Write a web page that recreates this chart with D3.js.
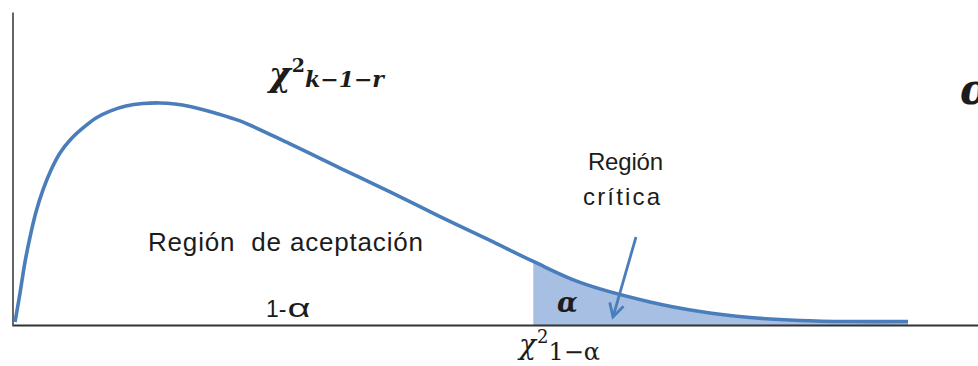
<!DOCTYPE html>
<html>
<head>
<meta charset="utf-8">
<script src="https://cdn.jsdelivr.net/npm/d3@7"></script>
<style>
  html, body { margin: 0; padding: 0; background: #fff; }
  svg { display: block; }
  text { white-space: pre; }
</style>
</head>
<body>
<script>
// Chi-square density (k - 1 - r degrees of freedom), read point by point
const chiValues = [0.043, 0.149, 0.255, 0.362, 0.489, 0.638, 0.809, 1.0, 1.234, 1.489, 1.766,
                   2.064, 2.404, 2.766, 3.128, 3.447, 3.766, 4.298, 4.83, 5.894, 6.957, 8.021,
                   9.085, 10.149, 11.07, 12.064, 13.553, 14.617, 15.681, 16.745,
                   17.809, 19.043];
const densityValues = [0.0019, 0.0204, 0.0402, 0.0562, 0.0722, 0.0863, 0.0990, 0.1099, 0.1188,
                       0.1259, 0.1323, 0.1367, 0.1399, 0.1415, 0.1419, 0.1412, 0.1396, 0.1355,
                       0.1304, 0.1157, 0.1003, 0.0850, 0.0693, 0.0540, 0.0406, 0.0272,
                       0.0147, 0.0086, 0.0048, 0.0029, 0.0022, 0.0022];
// Critical value chi²(1 - alpha)
const criticalValue = 11.07;

const width = 978, height = 366;
const blue = "#4a7ebb", shade = "#a7bfe2", ink = "#1c1c1c";

const svg = d3.select("body").append("svg")
  .attr("width", width).attr("height", height);

const x = d3.scaleLinear().domain([0, 20.5]).range([13, 976.5]);
const y = d3.scaleLinear().domain([0, 0.2]).range([325, 12]);

const points = chiValues.map((v, i) => ({ x: v, y: densityValues[i] }));
const tail = points.filter(p => p.x >= criticalValue);
const smooth = d3.curveCatmullRom.alpha(0.5);

// Critical region (shaded tail)
const area = d3.area()
  .x(d => x(d.x)).y0(y(0)).y1(d => y(d.y))
  .curve(smooth);
svg.append("path").datum(tail)
  .attr("d", area).attr("fill", shade);

// Axes: plain lines, no ticks
svg.append("g")
  .attr("transform", `translate(0,${y(0)})`)
  .call(d3.axisBottom(d3.scaleLinear().domain([0, 1]).range([13, 978])).ticks(0).tickSizeOuter(0))
  .call(g => g.select(".domain").attr("stroke", "#333").attr("stroke-width", 2));
svg.append("g")
  .attr("transform", `translate(${x(0) - 0.5},0)`)
  .call(d3.axisLeft(d3.scaleLinear().domain([0, 1]).range([326, 12])).ticks(0).tickSizeOuter(0))
  .call(g => g.select(".domain").attr("stroke", "#333").attr("stroke-width", 1.5));

// Density curve
const line = d3.line()
  .x(d => x(d.x)).y(d => y(d.y))
  .curve(smooth);
svg.append("path").datum(points)
  .attr("d", line)
  .attr("fill", "none")
  .attr("stroke", blue)
  .attr("stroke-width", 3.6)
  .attr("stroke-linecap", "butt");

// Arrow pointing into the critical region
const arrowFrom = { x: 636, y: 237 }, arrowTo = { x: 613, y: 317 };
svg.append("line")
  .attr("x1", arrowFrom.x).attr("y1", arrowFrom.y)
  .attr("x2", arrowTo.x).attr("y2", arrowTo.y)
  .attr("stroke", blue).attr("stroke-width", 2.8);
{
  const ang = Math.atan2(arrowTo.y - arrowFrom.y, arrowTo.x - arrowFrom.x);
  const len = 15, spread = 0.5;
  const a1 = [arrowTo.x - len * Math.cos(ang - spread), arrowTo.y - len * Math.sin(ang - spread)];
  const a2 = [arrowTo.x - len * Math.cos(ang + spread), arrowTo.y - len * Math.sin(ang + spread)];
  svg.append("path")
    .attr("d", `M${a1[0]},${a1[1]}L${arrowTo.x},${arrowTo.y}L${a2[0]},${a2[1]}`)
    .attr("fill", "none").attr("stroke", blue).attr("stroke-width", 2.8)
    .attr("stroke-linejoin", "miter");
}

const sans = "'Liberation Sans', Arial, sans-serif";
const serif = "'DejaVu Serif', 'Liberation Serif', serif";

function label(txt, px, py, opts) {
  const t = svg.append("text")
    .attr("x", px).attr("y", py)
    .attr("fill", ink)
    .attr("font-family", opts.family || sans)
    .attr("font-size", opts.size)
    .attr("font-weight", opts.weight || "normal")
    .attr("font-style", opts.style || "normal")
    .text(txt);
  if (opts.len) t.attr("textLength", opts.len).attr("lengthAdjust", "spacing");
  return t;
}

// Mixed label: several runs with their own font, size and offset in one text element
function richLabel(px, py, parts) {
  const t = svg.append("text").attr("x", px).attr("y", py)
    .attr("fill", ink).attr("font-family", serif);
  parts.forEach(p => {
    const s = t.append("tspan")
      .attr("dx", p.dx || 0).attr("dy", p.dy || 0)
      .attr("font-size", p.size)
      .attr("font-weight", p.weight || "normal")
      .attr("font-style", p.style || "normal")
      .text(p.text);
    if (p.family) s.attr("font-family", p.family);
    if (p.len) s.attr("textLength", p.len).attr("lengthAdjust", "spacingAndGlyphs");
  });
  return t;
}

// Distribution name: chi² with k-1-r degrees of freedom
richLabel(269, 86, [
  { text: "\u03C7", size: 33, weight: "bold", style: "italic" },
  { text: "2", size: 19, weight: "bold", dx: 1, dy: -14 },
  { text: "k\u22121\u2212r", size: 22, weight: "bold", style: "italic", dx: 0, dy: 15 }
]);

// Significance level at the right edge
label("\u03B1", 960, 104, { family: serif, size: 42, weight: "bold", style: "italic" });

// Region labels
label("Regi\u00F3n  de aceptaci\u00F3n", 148, 251, { size: 26, len: 275 });
richLabel(266, 317, [
  { text: "1-", size: 23, family: sans },
  { text: "\u03B1", size: 26, family: sans, dx: 1, len: 23 }
]);
label("Regi\u00F3n", 588, 170, { size: 24, len: 75 });
label("cr\u00EDtica", 583, 205, { size: 24, len: 77 });
label("\u03B1", 557, 312, { family: serif, size: 27, weight: "bold", style: "italic" });

// Critical value under the axis
richLabel(519, 354, [
  { text: "\u03C7", size: 28, style: "italic" },
  { text: "2", size: 18, dx: 1, dy: -11 },
  { text: "1\u2212\u03B1", size: 24, dx: 0, dy: 17 }
]);
</script>
</body>
</html>
